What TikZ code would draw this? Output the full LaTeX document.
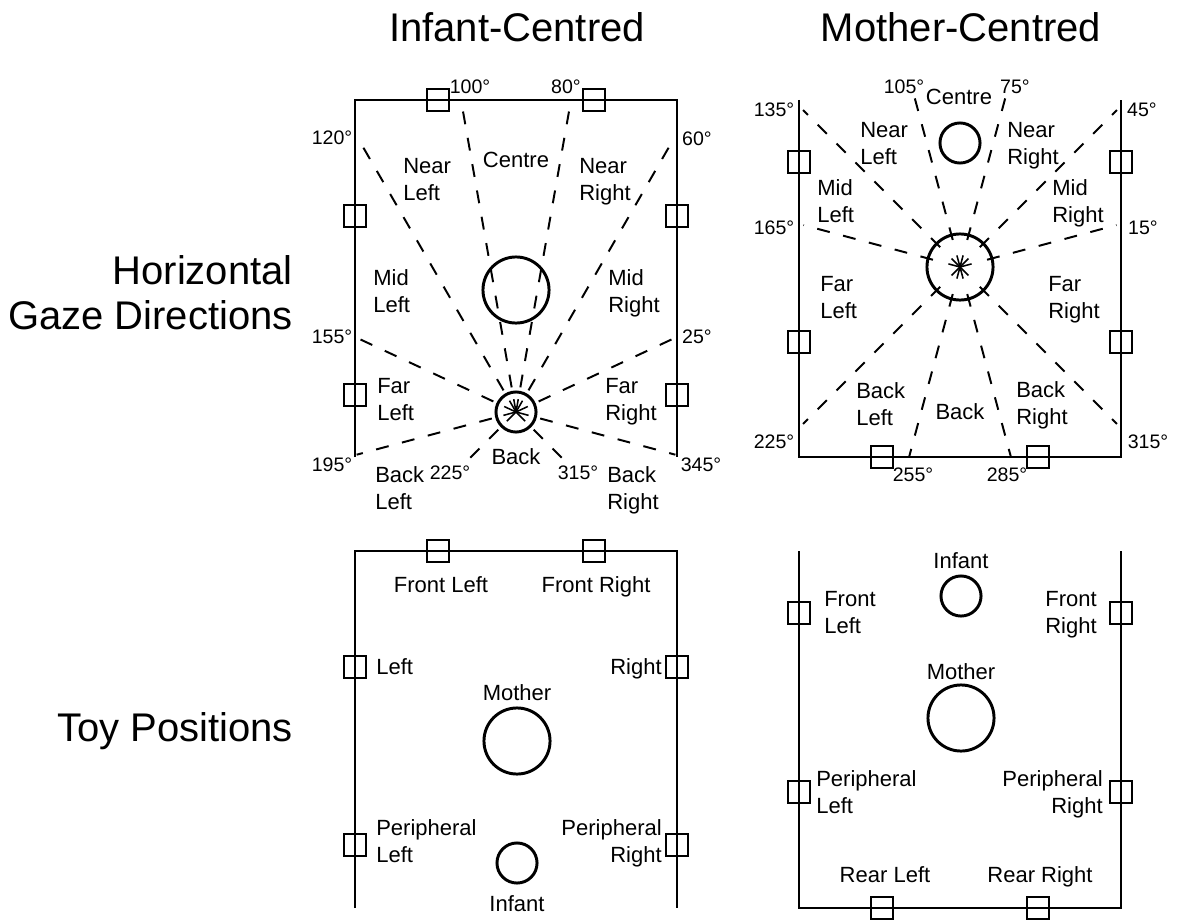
\documentclass[tikz,border=0pt]{standalone}
\usepackage{fontspec}
\setmainfont{Liberation Sans}
\usepackage{tikz}

\begin{document}
\begin{tikzpicture}[
    x=0.025cm, y=-0.025cm,
    wall/.style={line width=1.4pt},
    toy/.style={draw,line width=1.4pt,minimum size=15pt,inner sep=0pt},
    person/.style={draw,circle,line width=2.1pt,inner sep=0pt},
    mum/.style={person,minimum size=47pt},
    baby/.style={person,minimum size=28.5pt},
    gaze/.style={line width=1.4pt,dash pattern=on 9.2pt off 9.8pt},
    spoke/.style={line width=1.1pt},
    lbl/.style={font=\fontsize{15.65}{19.2}\selectfont,inner sep=0pt,align=left,
      execute at begin node=\strut,execute at end node=\strut,yshift=-1.8pt},
    deg/.style={font=\fontsize{13.9}{16}\selectfont,inner sep=0pt},
    head/.style={font=\fontsize{28.45}{32}\selectfont,inner sep=0pt,align=right}
  ]
    \useasboundingbox (0,0) rectangle (1177,920);

    % column and row headings
    \node[head] (ttl-inf) at (517,27) {Infant-Centred};
    \node[head] (ttl-mum) at (961,27) {Mother-Centred};
    \node[head,anchor=east] (row-gaze) at (293,293) {Horizontal\\Gaze Directions};
    \node[head,anchor=east] (row-toy) at (293,731) {Toy Positions};

    % walls
    \draw[wall] (355,457) -- (355,100) -- (677,100) -- (677,457);
    \draw[wall] (799,100) -- (799,457) -- (1121,457) -- (1121,100);
    \draw[wall] (355,908) -- (355,551) -- (677,551) -- (677,908);
    \draw[wall] (799,551) -- (799,908) -- (1121,908) -- (1121,551);

    % toys
    \foreach \p [count=\i] in {(438,100),(594,100),(355,216),(355,395),(677,216),(677,395)}
      \node[toy] (gi-toy\i) at \p {};
    \foreach \p [count=\i] in {(799,162),(799,342),(1121,162),(1121,342),(882,457),(1038,457)}
      \node[toy] (gm-toy\i) at \p {};
    \foreach \p [count=\i] in {(438,551),(594,551),(355,667),(355,845),(677,667),(677,845)}
      \node[toy] (ti-toy\i) at \p {};
    \foreach \p [count=\i] in {(799,613),(799,792),(1121,613),(1121,792),(882,908),(1038,908)}
      \node[toy] (tm-toy\i) at \p {};

    % gaze, infant-centred
    \node[mum] (gi-mum) at (516,290) {};
    \node[baby] (gi-inf) at (516,412) {};
    \begin{scope}[shift={(gi-inf)}, y=0.025cm]
      \foreach \a/\l in {100/310,80/310,120/310,60/310,155/175,25/175,195/165,345/165,225/65,315/65} {
        \draw[gaze] (\a:25) -- (\a:\l);
        \draw[spoke] (0,0) -- (\a:13);
      }
    \end{scope}
    \node[deg] (gi-d100) at (470,87) {100°};
    \node[deg] (gi-d80) at (566,87) {80°};
    \node[deg] (gi-d120) at (332,138) {120°};
    \node[deg] (gi-d60) at (697,139) {60°};
    \node[deg] (gi-d155) at (332,337) {155°};
    \node[deg] (gi-d25) at (697,337) {25°};
    \node[deg] (gi-d195) at (332,465) {195°};
    \node[deg] (gi-d345) at (701,465) {345°};
    \node[deg] (gi-d225) at (450,473) {225°};
    \node[deg] (gi-d315) at (578,473) {315°};
    \node[lbl] (gi-c) at (516,160) {Centre};
    \node[lbl] (gi-b) at (516,457) {Back};
    \node[lbl,anchor=west] (gi-nl) at (403,181) {Near\\Left};
    \node[lbl,anchor=west] (gi-nr) at (579,181) {Near\\Right};
    \node[lbl,anchor=west] (gi-ml) at (373,293) {Mid\\Left};
    \node[lbl,anchor=west] (gi-mr) at (608,293) {Mid\\Right};
    \node[lbl,anchor=west] (gi-fl) at (377,401) {Far\\Left};
    \node[lbl,anchor=west] (gi-fr) at (605,401) {Far\\Right};
    \node[lbl,anchor=west] (gi-bl) at (375,490) {Back\\Left};
    \node[lbl,anchor=west] (gi-br) at (607,490) {Back\\Right};

    % gaze, mother-centred
    \node[baby] (gm-inf) at (960,143) {};
    \node[mum] (gm-mum) at (960,267) {};
    \begin{scope}[shift={(gm-mum)}, y=0.025cm]
      \foreach \a/\l in {105/176,75/176,135/222,45/222,165/162,15/162,225/222,315/222,255/197,285/197} {
        \draw[gaze] (\a:28) -- (\a:\l);
        \draw[spoke] (0,0) -- (\a:12);
      }
    \end{scope}
    \node[deg] (gm-d105) at (904,87) {105°};
    \node[deg] (gm-d75) at (1015,87) {75°};
    \node[deg] (gm-d135) at (774,110) {135°};
    \node[deg] (gm-d45) at (1142,110) {45°};
    \node[deg] (gm-d165) at (774,228) {165°};
    \node[deg] (gm-d15) at (1143,228) {15°};
    \node[deg] (gm-d225) at (774,442) {225°};
    \node[deg] (gm-d315) at (1148,442) {315°};
    \node[deg] (gm-d255) at (913,475) {255°};
    \node[deg] (gm-d285) at (1007,475) {285°};
    \node[lbl] (gm-c) at (959,97) {Centre};
    \node[lbl] (gm-b) at (960,412) {Back};
    \node[lbl,anchor=west] (gm-nl) at (860,145) {Near\\Left};
    \node[lbl,anchor=west] (gm-nr) at (1007,145) {Near\\Right};
    \node[lbl,anchor=west] (gm-ml) at (817,203) {Mid\\Left};
    \node[lbl,anchor=west] (gm-mr) at (1052,203) {Mid\\Right};
    \node[lbl,anchor=west] (gm-fl) at (820,299) {Far\\Left};
    \node[lbl,anchor=west] (gm-fr) at (1048,299) {Far\\Right};
    \node[lbl,anchor=west] (gm-bl) at (856,406) {Back\\Left};
    \node[lbl,anchor=west] (gm-br) at (1016,405) {Back\\Right};

    % toy positions, infant-centred
    \node[mum] (ti-mum) at (517,741) {};
    \node[baby] (ti-inf) at (517,863) {};
    \node[lbl] at (517,693) {Mother};
    \node[lbl] at (517,904) {Infant};
    \node[lbl] (ti-fl) at (441,585) {Front Left};
    \node[lbl] (ti-fr) at (596,585) {Front Right};
    \node[lbl,anchor=west] (ti-l) at (376,667) {Left};
    \node[lbl,anchor=east] (ti-r) at (662,667) {Right};
    \node[lbl,anchor=west] (ti-pl) at (376,843) {Peripheral\\Left};
    \node[lbl,anchor=east,align=right] (ti-pr) at (662,843) {Peripheral\\Right};

    % toy positions, mother-centred
    \node[baby] (tm-inf) at (961,596) {};
    \node[mum] (tm-mum) at (961,718) {};
    \node[lbl] at (961,561) {Infant};
    \node[lbl] at (961,672) {Mother};
    \node[lbl,anchor=west] (tm-fl) at (824,614) {Front\\Left};
    \node[lbl,anchor=east,align=right] (tm-fr) at (1097,614) {Front\\Right};
    \node[lbl,anchor=west] (tm-pl) at (816,794) {Peripheral\\Left};
    \node[lbl,anchor=east,align=right] (tm-pr) at (1103,794) {Peripheral\\Right};
    \node[lbl] (tm-rl) at (885,875) {Rear Left};
    \node[lbl] (tm-rr) at (1040,875) {Rear Right};
\end{tikzpicture}
\end{document}
